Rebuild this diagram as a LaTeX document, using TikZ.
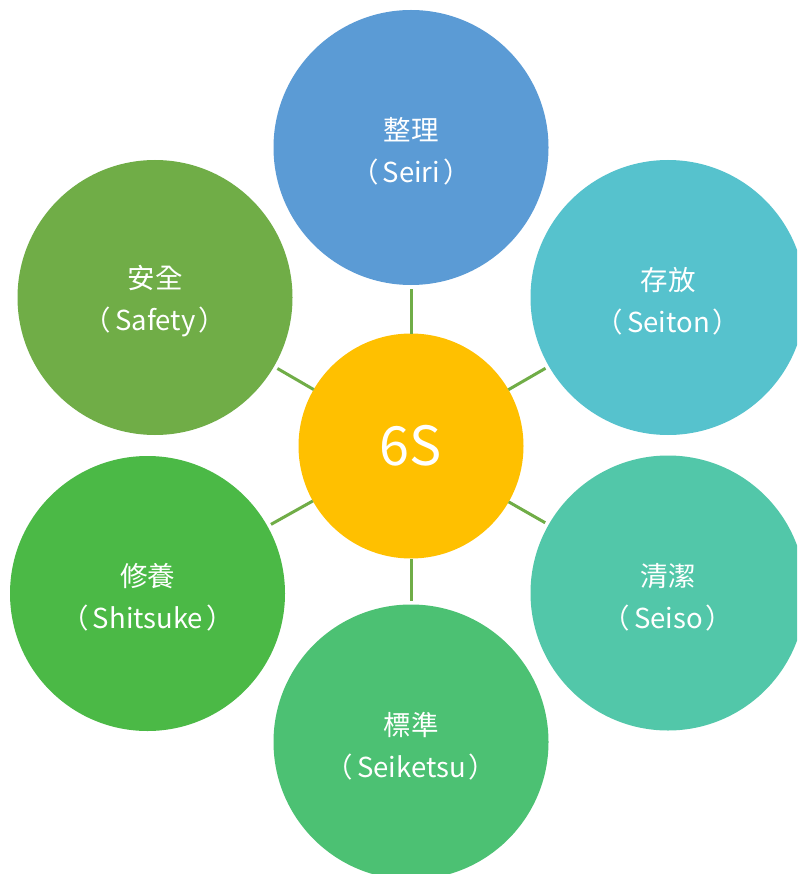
\documentclass[tikz,border=0pt]{standalone}
\usepackage{fontspec}
\setmainfont{Noto Sans CJK TC}
\newcommand\lpar{（\hspace{4pt}}
\newcommand\rpar{\hspace{3pt}）}
\definecolor{cSeiri}{HTML}{5B9BD5}
\definecolor{cSeiton}{HTML}{56C2CD}
\definecolor{cSeiso}{HTML}{52C7A9}
\definecolor{cSeiketsu}{HTML}{4CC173}
\definecolor{cShitsuke}{HTML}{4BB946}
\definecolor{cSafety}{HTML}{70AD47}
\definecolor{cCenter}{HTML}{FFC000}
\definecolor{cLine}{HTML}{70AD47}
\tikzset{
  outerc/.style={circle, minimum size=275pt, inner sep=0pt, outer sep=0pt},
  outertext/.style={text=white, align=center, inner sep=0pt, yshift=-4pt, font=\fontsize{27.5}{42}\selectfont},
  centerc/.style={circle, minimum size=225pt, inner sep=0pt, outer sep=0pt, fill=cCenter, text=white, font=\fontsize{54}{60}\selectfont},
  conn/.style={draw=cLine, line width=3pt, shorten >=4pt}
}
\begin{document}
\begin{tikzpicture}[x=1pt,y=-1pt]
\useasboundingbox (0,0) rectangle (797,874);
\clip (0,0) rectangle (797,874);
\fill[white] (0,0) rectangle (797,874);
\node[centerc] (c) at (411,446) {6S};
\node[outerc, fill=cSeiri, label={[outertext]center:整理\\\lpar Seiri\rpar}] (seiri) at (411,147.5) {};
\node[outerc, fill=cSeiton, label={[outertext]center:存放\\\lpar Seiton\rpar}] (seiton) at (668,297.5) {};
\node[outerc, fill=cSeiso, label={[outertext]center:清潔\\\lpar Seiso\rpar}] (seiso) at (668,593) {};
\node[outerc, fill=cSeiketsu, label={[outertext]center:標準\\\lpar Seiketsu\rpar}] (seiketsu) at (411,742) {};
\node[outerc, fill=cShitsuke, label={[outertext]center:修養\\\lpar Shitsuke\rpar}] (shitsuke) at (147.5,593.5) {};
\node[outerc, fill=cSafety, label={[outertext]center:安全\\\lpar Safety\rpar}] (safety) at (155,297.5) {};
\foreach \o in {seiri,seiton,seiso,seiketsu,shitsuke,safety}
  \draw[conn] (c) -- (\o);
\end{tikzpicture}
\end{document}
